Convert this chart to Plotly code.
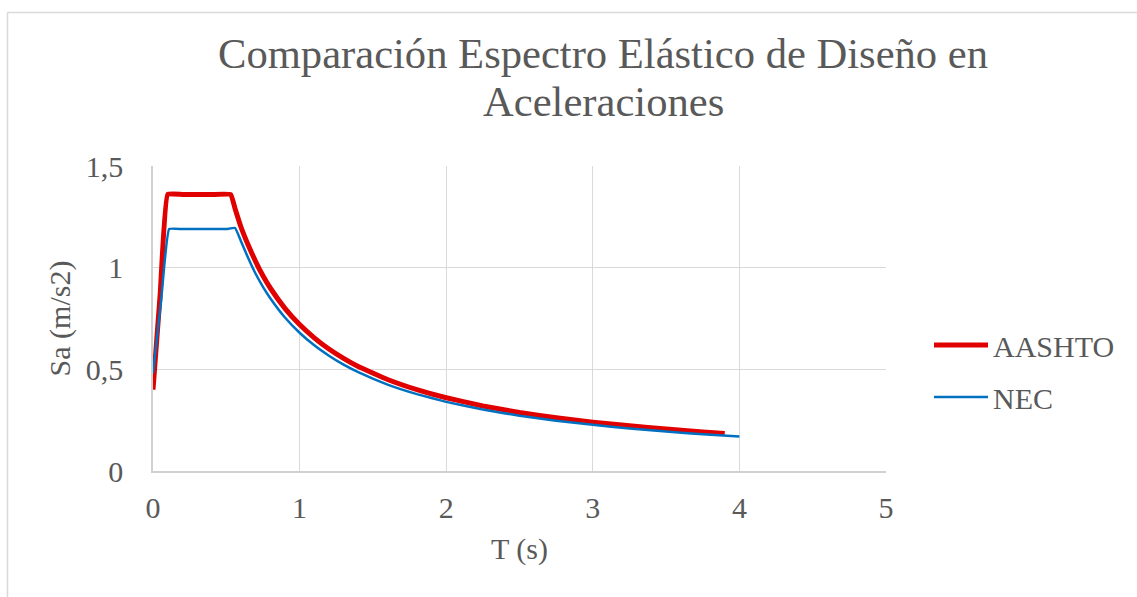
import plotly.graph_objects as go

# ---- data ----
T_aashto = [0.0, 0.05, 0.1, 0.2, 0.3, 0.4, 0.53, 0.56, 0.6, 0.65, 0.7, 0.75, 0.8, 0.9, 1.0, 1.1,
            1.2, 1.3, 1.4, 1.6, 1.8, 2.0, 2.25, 2.5, 2.75, 3.0, 3.25, 3.5, 3.75, 3.9]
Sa_aashto = [0.40, 0.88, 1.36, 1.36, 1.36, 1.36, 1.36, 1.29, 1.20, 1.11, 1.03, 0.96, 0.90, 0.80,
             0.72, 0.655, 0.60, 0.554, 0.514, 0.45, 0.40, 0.36, 0.32, 0.288, 0.262, 0.24,
             0.222, 0.206, 0.192, 0.185]

T_nec = [0.0, 0.055, 0.11, 0.2, 0.3, 0.4, 0.5, 0.56, 0.6, 0.65, 0.7, 0.75, 0.8, 0.9, 1.0, 1.1,
         1.2, 1.3, 1.4, 1.6, 1.8, 2.0, 2.25, 2.5, 2.75, 3.0, 3.25, 3.5, 3.75, 4.0]
Sa_nec = [0.48, 0.835, 1.19, 1.19, 1.19, 1.19, 1.19, 1.195, 1.13, 1.046, 0.97, 0.906, 0.85, 0.755,
          0.68, 0.618, 0.567, 0.523, 0.486, 0.425, 0.378, 0.34, 0.302, 0.272, 0.247, 0.227,
          0.209, 0.194, 0.181, 0.17]

x_ticks = [0, 1, 2, 3, 4, 5]
y_ticks = [0, 0.5, 1, 1.5]
y_tick_labels = ["0", "0,5", "1", "1,5"]

title_line1 = "Comparación Espectro Elástico de Diseño en"
title_line2 = "Aceleraciones"

FONT = "Liberation Serif, Times New Roman, serif"
GREY_TXT = "#595959"
GRID = "#d9d9d9"

fig = go.Figure()
fig.add_trace(go.Scatter(x=T_aashto, y=Sa_aashto, mode="lines", name="AASHTO",
                         line=dict(color="#e00000", width=5, shape="spline", smoothing=0.3),
                         legendgroup="a"))
fig.add_trace(go.Scatter(x=T_nec, y=Sa_nec, mode="lines", name="NEC",
                         line=dict(color="#0070c0", width=2.5, shape="spline", smoothing=0.3),
                         legendgroup="b"))

W, H = 1137, 597
L, R, TOP, B = 153, 251, 166, 126
pw, ph = W - L - R, H - TOP - B


def px(xp):
    return (xp - L) / pw


def py(yp):
    return (H - B - yp) / ph


fig.update_layout(
    width=W, height=H,
    margin=dict(l=L, r=R, t=TOP, b=B, pad=0),
    paper_bgcolor="white", plot_bgcolor="white",
    font=dict(family=FONT, size=30, color=GREY_TXT),
    separators=", ",
    showlegend=True,
    legend=dict(x=px(929), y=py(371), xanchor="left", yanchor="middle",
                font=dict(size=30, color=GREY_TXT), tracegroupgap=10, itemwidth=54,
                traceorder="grouped", bgcolor="rgba(0,0,0,0)"),
    annotations=[
        dict(text=title_line1, x=px(603), y=py(54), xref="paper", yref="paper",
             xanchor="center", yanchor="middle", showarrow=False,
             font=dict(size=42.6, color=GREY_TXT, family=FONT)),
        dict(text=title_line2, x=px(603), y=py(102), xref="paper", yref="paper",
             xanchor="center", yanchor="middle", showarrow=False,
             font=dict(size=42.6, color=GREY_TXT, family=FONT)),
    ],
    shapes=[
        dict(type="line", xref="paper", yref="paper", x0=px(7.5), x1=px(1137), y0=py(12.5), y1=py(12.5),
             line=dict(color=GRID, width=1.5)),
        dict(type="line", xref="paper", yref="paper", x0=px(7.5), x1=px(7.5), y0=py(12.5), y1=py(597),
             line=dict(color=GRID, width=1.5)),
    ],
)

fig.update_xaxes(range=[0, 5], tickvals=x_ticks, showgrid=True, gridcolor=GRID, gridwidth=1.3,
                 showline=True, linecolor="#d0d0d0", linewidth=1.5, zeroline=False,
                 ticks="", ticklabelstandoff=9, tickfont=dict(size=30, color=GREY_TXT),
                 title=dict(text="T (s)", font=dict(size=30, color=GREY_TXT), standoff=15),
                 fixedrange=True)
fig.update_yaxes(range=[0, 1.5], tickvals=y_ticks, ticktext=y_tick_labels, showgrid=True,
                 gridcolor=GRID, gridwidth=1.3, showline=True, linecolor="#d0d0d0", linewidth=1.5,
                 zeroline=False, ticks="", ticklabelstandoff=22,
                 tickfont=dict(size=30, color=GREY_TXT),
                 title=dict(text="Sa (m/s2)", font=dict(size=30, color=GREY_TXT), standoff=6),
                 fixedrange=True)

fig.write_html("out.html", config={"displayModeBar": False},
               post_script="document.body.style.margin='0';document.body.style.padding='0';")
